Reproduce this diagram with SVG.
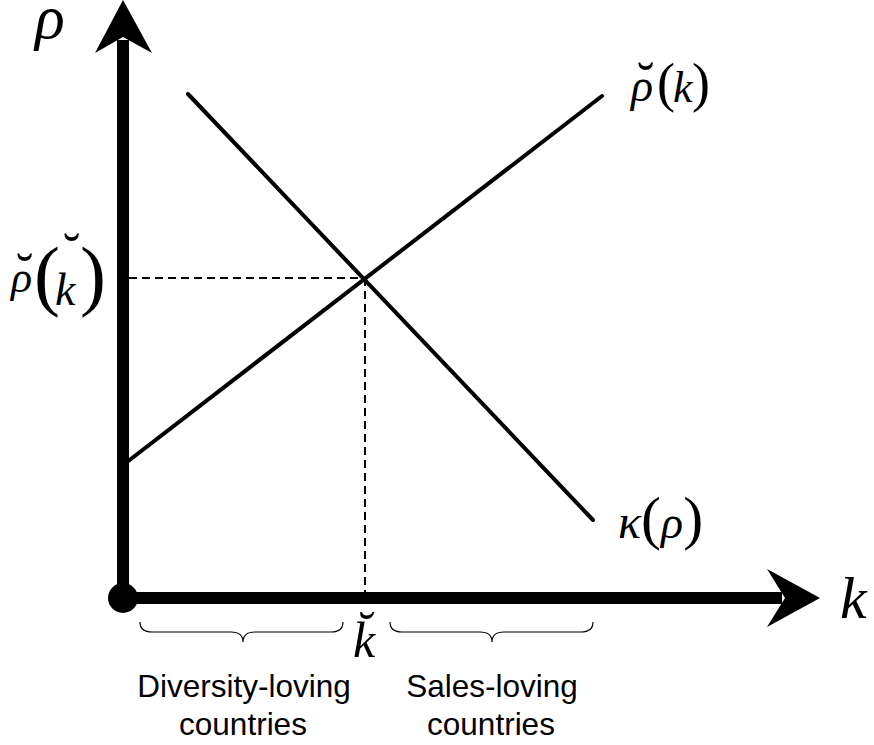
<svg xmlns="http://www.w3.org/2000/svg" width="874" height="745" viewBox="0 0 874 745">
<style>
.m{font-family:"Liberation Serif","Times New Roman",serif;font-style:italic;fill:#000}
.u{font-style:normal}
.t{font-family:"Liberation Sans",Arial,sans-serif;font-size:31.5px;fill:#000;text-anchor:middle}
.ax{stroke:#000;stroke-width:12;fill:none}
.cv{stroke:#000;stroke-width:4;fill:none;stroke-linecap:round}
.ds{stroke:#000;stroke-width:2;fill:none;stroke-dasharray:8 5}
.br{stroke:#000;stroke-width:1.2;fill:none}
</style>
<rect width="874" height="745" fill="#fff"/>
<g id="axes">
<line class="ax" x1="123" y1="40" x2="123" y2="598"/>
<line class="ax" x1="123" y1="598" x2="782" y2="598"/>
<polygon points="123,0 152,53 123,37 95,53" fill="#000"/>
<polygon points="820,598 767,569 785,598 767,627" fill="#000"/>
<circle cx="123" cy="598" r="15" fill="#000"/>
</g>
<g id="connectors">
<line class="cv" x1="127" y1="462" x2="602" y2="96"/>
<line class="cv" x1="188" y1="94" x2="593" y2="520"/>
<line class="ds" x1="129" y1="278" x2="365" y2="278"/>
<line class="ds" x1="365" y1="278" x2="365" y2="592"/>
</g>
<g id="braces">
<path class="br" d="M140,622 Q140,632 152,632 L231,632 Q243,632 243,642 Q243,632 255,632 L331,632 Q343,632 343,622"/>
<path class="br" d="M390,622 Q390,632 402,632 L480,632 Q492,632 492,642 Q492,632 504,632 L581,632 Q593,632 593,622"/>
</g>
<g id="label-rho-axis"><text class="m" x="35" y="38" font-size="62">ρ</text></g>
<g id="label-k-axis"><text class="m" x="840" y="618" font-size="60">k</text></g>
<g id="label-rho-k">
<text class="m" x="631" y="101" font-size="46">ρ<tspan class="u" x="637" y="99" font-size="52">˘</tspan><tspan class="u" x="657" y="101" font-size="54">(</tspan><tspan x="673" y="102" font-size="44">k</tspan><tspan class="u" x="692" y="101" font-size="54">)</tspan></text>
</g>
<g id="label-rho-kbreve">
<text class="m" x="11" y="292" font-size="44">ρ<tspan class="u" x="16" y="290" font-size="52">˘</tspan><tspan class="u" x="34" y="301" font-size="78">(</tspan><tspan x="55" y="305" font-size="46">k</tspan><tspan class="u" x="63" y="270" font-size="52">˘</tspan><tspan class="u" x="80" y="301" font-size="78">)</tspan></text>
</g>
<g id="label-kappa">
<text class="m" x="618" y="538" font-size="48">κ<tspan class="u" font-size="60">(</tspan><tspan font-size="46">ρ</tspan><tspan class="u" font-size="60">)</tspan></text>
</g>
<g id="label-kbreve">
<text class="m" x="353" y="657" font-size="50">k̆</text>
</g>
<g id="label-diversity">
<text class="t" x="244" y="697">Diversity-loving</text>
<text class="t" x="243" y="735">countries</text>
</g>
<g id="label-sales">
<text class="t" x="492" y="697">Sales-loving</text>
<text class="t" x="491" y="735">countries</text>
</g>
</svg>
